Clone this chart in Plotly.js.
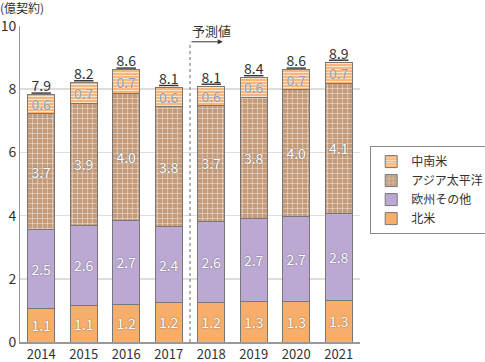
<!DOCTYPE html>
<html>
<head>
<meta charset="utf-8">
<script src="https://cdn.plot.ly/plotly-3.0.1.min.js"></script>
<style>html,body{margin:0;padding:0;background:#fff}#chart{width:485px;height:362px}</style>
</head>
<body>
<div id="chart"></div>
<script>
const years = ['2014','2015','2016','2017','2018','2019','2020','2021'];
// segment heights
const northAmerica = [1.07, 1.16, 1.19, 1.24, 1.24, 1.28, 1.28, 1.32];
const europeOther  = [2.48, 2.53, 2.67, 2.41, 2.57, 2.62, 2.69, 2.76];
const asiaPacific  = [3.69, 3.86, 3.99, 3.79, 3.68, 3.84, 4.01, 4.10];
const latinAmerica = [0.58, 0.66, 0.76, 0.62, 0.61, 0.63, 0.63, 0.68];
// printed labels
const northAmericaLabels = ['1.1','1.1','1.2','1.2','1.2','1.3','1.3','1.3'];
const europeOtherLabels  = ['2.5','2.6','2.7','2.4','2.6','2.7','2.7','2.8'];
const asiaPacificLabels  = ['3.7','3.9','4.0','3.8','3.7','3.8','4.0','4.1'];
const latinAmericaLabels = ['0.6','0.7','0.7','0.6','0.6','0.6','0.7','0.7'];
const totalLabels        = ['7.9','8.2','8.6','8.1','8.1','8.4','8.6','8.9'];
const seriesNames = ['北米','欧州その他','アジア太平洋','中南米'];
const forecastLabel = '予測値';
const yTitle = '(億契約)';

const FONT = '"Noto Sans CJK JP", "Noto Sans", sans-serif';
const inText = {family: FONT, size: 14, color: '#ffffff', shadow: '0px 0px 1.5px #555'};
const lineStyle = {color: '#777777', width: 1};

const totals = years.map((_, i) => northAmerica[i] + europeOther[i] + asiaPacific[i] + latinAmerica[i]);

const traces = [
  {type: 'bar', name: seriesNames[0], x: years, y: northAmerica, text: northAmericaLabels,
   marker: {color: '#f7ae6a', line: lineStyle}},
  {type: 'bar', name: seriesNames[1], x: years, y: europeOther, text: europeOtherLabels,
   marker: {color: '#bba9d3', line: lineStyle}},
  {type: 'bar', name: seriesNames[2], x: years, y: asiaPacific, text: asiaPacificLabels,
   marker: {color: '#c49c7c', line: lineStyle,
     pattern: {shape: '+', bgcolor: '#c49c7c', fgcolor: '#f4ebe2', size: 5, solidity: 0.18, fillmode: 'replace'}}},
  {type: 'bar', name: seriesNames[3], x: years, y: latinAmerica, text: latinAmericaLabels,
   marker: {color: '#f8b57a', line: lineStyle,
     pattern: {shape: '-', bgcolor: '#f8b57a', fgcolor: '#fde3c6', size: 3, solidity: 0.35, fillmode: 'replace'}}}
].map(t => Object.assign(t, {
  textposition: 'inside', insidetextanchor: 'middle', textangle: 0,
  constraintext: 'none', textfont: inText, hoverinfo: 'skip'
}));
traces[3].textfont = Object.assign({}, inText, {color: '#8d9bb2', shadow: '0px 0px 1.5px #ffffff'});

traces.push({
  type: 'scatter', mode: 'text', x: years, y: totals,
  text: totalLabels.map(s => '<u>' + s + '</u>'),
  textposition: 'top center', showlegend: false, hoverinfo: 'skip',
  textfont: {family: FONT, size: 14, color: '#333333'}
});

const layout = {
  width: 485, height: 362,
  margin: {l: 20, r: 125, t: 26, b: 20, autoexpand: false},
  barmode: 'stack', bargap: 0.365,
  paper_bgcolor: '#ffffff', plot_bgcolor: '#ffffff',
  font: {family: FONT, size: 14, color: '#333333'},
  xaxis: {type: 'category', showline: true, linecolor: '#999999', linewidth: 1.5,
    ticks: '', ticklen: 0, showgrid: false, tickfont: {size: 13, color: '#333'}, fixedrange: true},
  yaxis: {range: [0, 10], dtick: 2, showline: true, linecolor: '#999999', linewidth: 1,
    gridcolor: '#dddddd', gridwidth: 1.5, zeroline: false, ticks: '', ticklen: 0,
    tickfont: {size: 14, color: '#333'}, fixedrange: true},
  legend: {traceorder: 'reversed', x: 1.03, xanchor: 'left', y: 0.62, yanchor: 'top',
    bordercolor: '#888888', borderwidth: 1, font: {size: 12, color: '#333'},
    itemwidth: 30, tracegroupgap: 0},
  shapes: [{type: 'line', xref: 'x', yref: 'y', x0: 3.5, x1: 3.5, y0: 0, y1: 9.5,
    line: {color: '#999999', width: 1.5, dash: 'dot'}}],
  annotations: [
    {xref: 'x', yref: 'y', axref: 'x', ayref: 'y', x: 4.27, y: 9.5, ax: 3.5, ay: 9.5,
     text: '', showarrow: true, arrowhead: 2, arrowsize: 1, arrowwidth: 1, arrowcolor: '#333'},
    {xref: 'x', yref: 'y', x: 3.5, y: 9.5, xanchor: 'left', yanchor: 'bottom',
     text: forecastLabel, showarrow: false, font: {size: 13, color: '#333'}},
    {xref: 'paper', yref: 'paper', x: -0.062, y: 1.06, xanchor: 'left', yanchor: 'middle',
     text: yTitle, showarrow: false, borderpad: 0, font: {size: 12, color: '#333'}}
  ]
};

Plotly.newPlot('chart', traces, layout, {displayModeBar: false, staticPlot: true});
</script>
</body>
</html>
